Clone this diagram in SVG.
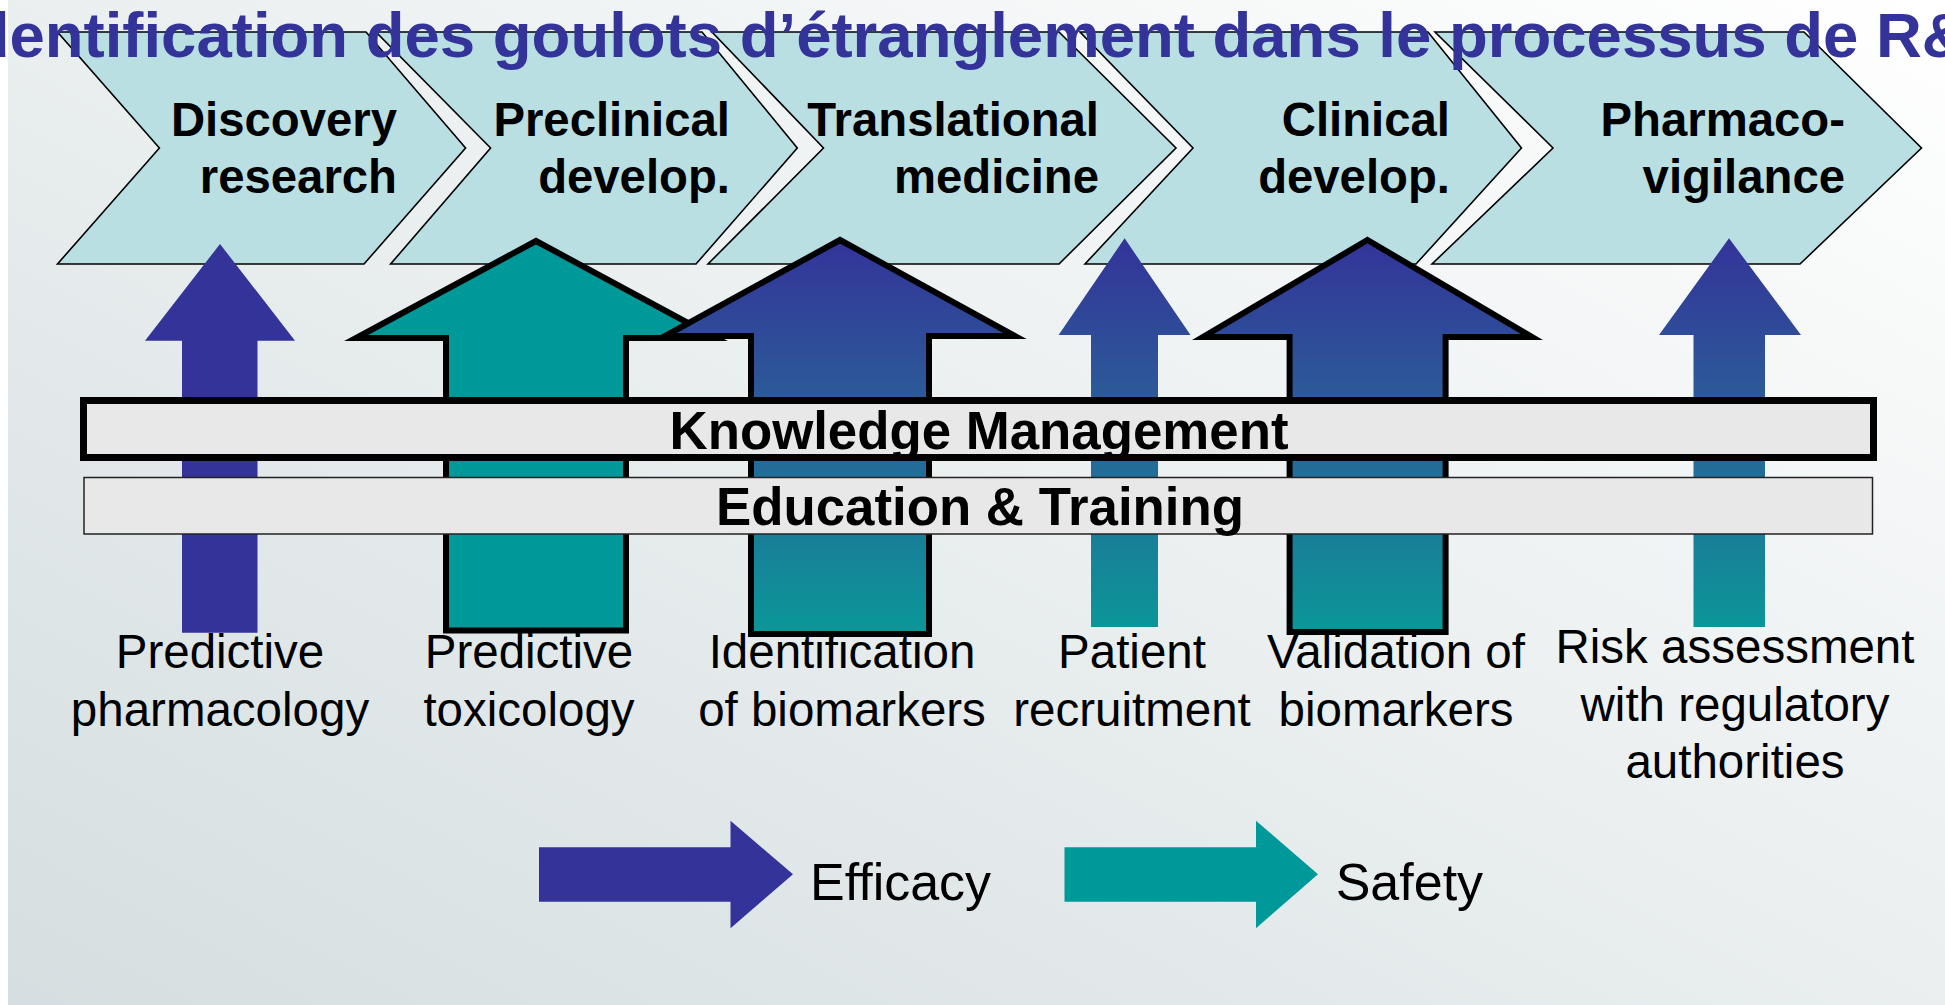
<svg xmlns="http://www.w3.org/2000/svg" width="1945" height="1005" viewBox="0 0 1945 1005">
  <defs>
    <linearGradient id="bg" x1="0" y1="1" x2="1" y2="0">
      <stop offset="0" stop-color="#d5dee0"/>
      <stop offset="1" stop-color="#ffffff"/>
    </linearGradient>
    <linearGradient id="effsafe" gradientUnits="userSpaceOnUse" x1="0" y1="237" x2="0" y2="635">
      <stop offset="0" stop-color="#333399"/>
      <stop offset="0.45" stop-color="#2b5f98"/>
      <stop offset="1" stop-color="#0a9898"/>
    </linearGradient>
    <style>
      .chev { fill: #b9dfe3; stroke: #000; stroke-width: 1.6; stroke-linejoin: miter; }
      .chevtxt { font-family: "Liberation Sans", Arial, sans-serif; font-weight: bold; font-size: 47.3px; fill: #000; text-anchor: end; }
      .lbl { font-family: "Liberation Sans", Arial, sans-serif; font-size: 47.5px; fill: #000; text-anchor: middle; }
      .leg { font-family: "Liberation Sans", Arial, sans-serif; font-size: 52px; fill: #000; }
      .bartxt { font-family: "Liberation Sans", Arial, sans-serif; font-weight: bold; font-size: 52.8px; fill: #000; text-anchor: middle; }
      .big { stroke: #000; stroke-width: 6; stroke-linejoin: miter; stroke-miterlimit: 10; }
      .eff { fill: #333399; }
      .saf { fill: #009999; }
      .grad { fill: url(#effsafe); }
    </style>
  </defs>

  <rect x="0" y="0" width="1945" height="1005" fill="#ffffff"/>
  <rect x="8" y="0" width="1937" height="1005" fill="url(#bg)"/>

  <g id="chevrons">
    <g id="discovery">
      <path class="chev" d="M57.5,32 L366,32 L465.6,148 L364,264 L57.5,264 L159.4,148 Z"/>
      <text class="chevtxt" x="397" y="136">Discovery</text>
      <text class="chevtxt" x="397" y="193.3">research</text>
    </g>
    <g id="preclinical">
      <path class="chev" d="M376,32 L702,32 L797.3,148 L696,264 L390.6,264 L490.6,148 Z"/>
      <text class="chevtxt" x="730" y="136">Preclinical</text>
      <text class="chevtxt" x="730" y="193.3">develop.</text>
    </g>
    <g id="translational">
      <path class="chev" d="M712,32 L1059,32 L1176,148 L1059,264 L708,264 L823.5,148 Z"/>
      <text class="chevtxt" x="1099" y="136">Translational</text>
      <text class="chevtxt" x="1099" y="193.3">medicine</text>
    </g>
    <g id="clinical">
      <path class="chev" d="M1080,32 L1428,32 L1521.5,148 L1416,264 L1085,264 L1193,148 Z"/>
      <text class="chevtxt" x="1450" y="136">Clinical</text>
      <text class="chevtxt" x="1450" y="193.3">develop.</text>
    </g>
    <g id="pharmacovigilance">
      <path class="chev" d="M1435,32 L1804,32 L1921.5,148 L1800,264 L1432,264 L1553,148 Z"/>
      <text class="chevtxt" x="1845" y="136">Pharmaco-</text>
      <text class="chevtxt" x="1845" y="193.3">vigilance</text>
    </g>
  </g>

  <g id="connectors">
    <polygon id="arrow-pharmacology" class="eff" points="220,244 295,340.7 257.5,340.7 257.5,632.7 182,632.7 182,340.7 145,340.7"/>
    <polygon id="arrow-toxicology" class="saf big" points="536,241 716,338 626,338 626,630.5 446,630.5 446,338 356,338"/>
    <polygon id="arrow-biomarkers-id" class="grad big" points="840,240 1015,336 929,336 929,634 751,634 751,336 665,336"/>
    <polygon id="arrow-recruitment" class="grad" points="1124.6,238.3 1190.5,335 1158,335 1158,627 1091,627 1091,335 1058.6,335"/>
    <polygon id="arrow-biomarkers-val" class="grad big" points="1367.5,240 1532,337 1445.6,337 1445.6,632 1289.6,632 1289.6,337 1203,337"/>
    <polygon id="arrow-risk" class="grad" points="1729,238.3 1801,335 1765,335 1765,627 1693.5,627 1693.5,335 1659,335"/>
  </g>

  <g id="knowledge-management">
    <rect x="83.5" y="400.5" width="1790" height="57" fill="#e8e8e8" stroke="#000" stroke-width="7"/>
    <text class="bartxt" x="979" y="449">Knowledge Management</text>
  </g>
  <g id="education-training">
    <rect x="84" y="477.5" width="1788.5" height="56.5" fill="#e8e8e8" stroke="#222" stroke-width="1.5"/>
    <text class="bartxt" x="980" y="525">Education &amp; Training</text>
  </g>

  <g id="labels">
    <g id="lbl-pharmacology">
      <text class="lbl" x="220" y="668">Predictive</text>
      <text class="lbl" x="220" y="726">pharmacology</text>
    </g>
    <g id="lbl-toxicology">
      <text class="lbl" x="529" y="668">Predictive</text>
      <text class="lbl" x="529" y="726">toxicology</text>
    </g>
    <g id="lbl-biomarkers-id">
      <text class="lbl" x="842" y="668">Identification</text>
      <text class="lbl" x="842" y="726">of biomarkers</text>
    </g>
    <g id="lbl-recruitment">
      <text class="lbl" x="1132" y="668">Patient</text>
      <text class="lbl" x="1132" y="726">recruitment</text>
    </g>
    <g id="lbl-biomarkers-val">
      <text class="lbl" x="1396" y="668">Validation of</text>
      <text class="lbl" x="1396" y="726">biomarkers</text>
    </g>
    <g id="lbl-risk">
      <text class="lbl" x="1735" y="663">Risk assessment</text>
      <text class="lbl" x="1735" y="720.5">with regulatory</text>
      <text class="lbl" x="1735" y="778">authorities</text>
    </g>
  </g>

  <g id="legend">
    <g id="legend-efficacy">
      <polygon class="eff" points="539,847.3 730.5,847.3 730.5,820.7 793,874.3 730.5,928.3 730.5,901.7 539,901.7"/>
      <text class="leg" x="810" y="900">Efficacy</text>
    </g>
    <g id="legend-safety">
      <polygon class="saf" points="1064.5,847.3 1256,847.3 1256,820.7 1318,874.3 1256,928.3 1256,901.7 1064.5,901.7"/>
      <text class="leg" x="1335.7" y="900">Safety</text>
    </g>
  </g>

  <g id="title">
    <text x="-47" y="57" font-family="'Liberation Sans', Arial, sans-serif" font-weight="bold" font-size="63.5" fill="#333399">Identification des goulots d’étranglement dans le processus de R&amp;D</text>
  </g>
</svg>
